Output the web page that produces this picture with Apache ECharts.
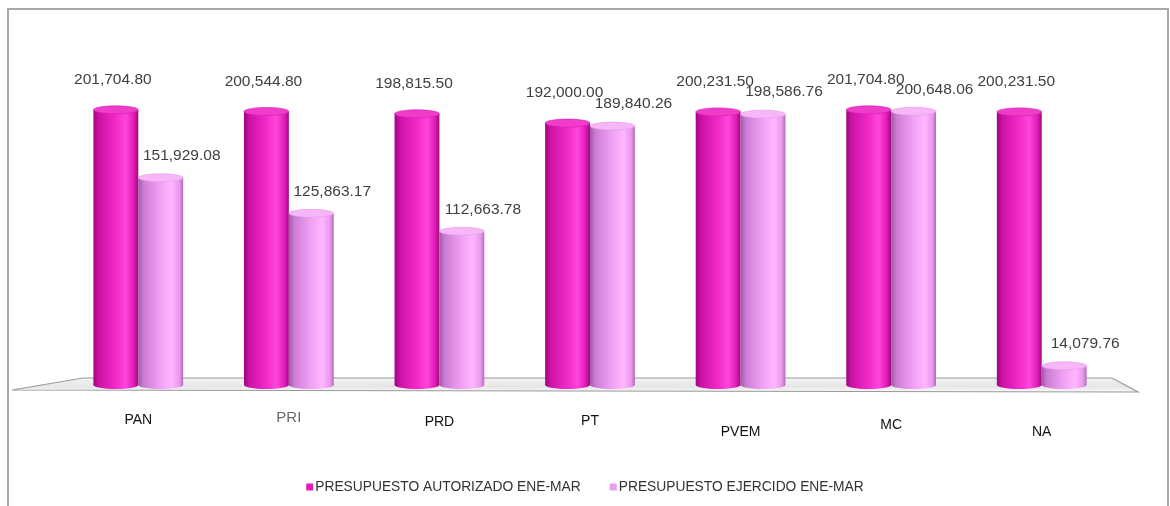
<!DOCTYPE html>
<html><head><meta charset="utf-8">
<script src="https://cdn.jsdelivr.net/npm/echarts@6/dist/echarts.min.js"></script>
<style>html,body{margin:0;padding:0;background:#fff}#c{width:1170px;height:506px}</style>
</head><body><div id="c"></div>
<script>
var categories = ['PAN','PRI','PRD','PT','PVEM','MC','NA'];
var autorizado = [201704.80, 200544.80, 198815.50, 192000.00, 200231.50, 201704.80, 200231.50];
var ejercido = [151929.08, 125863.17, 112663.78, 189840.26, 198586.76, 200648.06, 14079.76];
var seriesNames = ['PRESUPUESTO AUTORIZADO ENE-MAR', 'PRESUPUESTO EJERCIDO ENE-MAR'];

var labelDrop = [3, 0, 5, 4, 15, 8, 15];
var G = {left: 63, right: 53, top: 44, bottom: 121};
var W = 1170, H = 506;
var FONT = '"Liberation Sans", Arial, sans-serif';

function fmt(v){
  return v.toLocaleString('en-US',{minimumFractionDigits:2, maximumFractionDigits:2});
}
var themes = [
  {body: [[0,'#9c0680'],[0.12,'#cc12a6'],[0.5,'#f22ac8'],[0.72,'#ff46dc'],[0.9,'#e01cb8'],[1,'#a0087f']],
   cap: '#f03ccb', capEdge:'#d81cb0', legend:'#e41cbc', dx:-3, dy:-26},
  {body: [[0,'#a05aa8'],[0.12,'#cc7cd4'],[0.5,'#f2a2f4'],[0.75,'#ffb6ff'],[0.92,'#e898ec'],[1,'#b06ab8']],
   cap: '#f6b6f8', capEdge:'#e09ae4', legend:'#ee9cf0', dx:21, dy:-18}
];

function makeRender(si){
  var t = themes[si];
  return function(params, api){
    var c = api.value(0), v = api.value(1);
    var base = api.coord([c, 0]);
    var top = api.coord([c, v]);
    var band = api.size([1, 0])[0];
    var w = band * 0.298;
    var cx = base[0] + (si === 0 ? -0.5 : 0.5) * w;
    var rx = w / 2, ry = 4;
    var grad = new echarts.graphic.LinearGradient(0,0,1,0, t.body.map(function(s){return {offset:s[0], color:s[1]};}));
    return {
      type: 'group',
      children: [
        {type:'ellipse', shape:{cx:cx, cy:base[1], rx:rx, ry:ry}, style:{fill:grad}},
        {type:'rect', shape:{x:cx-rx, y:top[1], width:w, height:base[1]-top[1]}, style:{fill:grad}},
        {type:'ellipse', shape:{cx:cx, cy:top[1], rx:rx, ry:ry}, style:{fill:t.cap, stroke:t.capEdge, lineWidth:0.6}},
        {type:'text', x: cx + t.dx, y: top[1] - ry + t.dy,
         style:{text: fmt(v), fill:'#404040', font:'15.5px ' + FONT, align:'center', verticalAlign:'middle'}}
      ]
    };
  };
}

var rich = {};
labelDrop.forEach(function(d,i){
  rich['o'+i] = {padding:[d,0,0,0], fontSize: i===1?15:14, color: i===1?'#6a6a6a':'#111', fontFamily: FONT};
});

var baseY = H - G.bottom;
var floor = [[12, baseY+5],[83, baseY-7],[1112, baseY-7],[1138, baseY+7]];

var chart = echarts.init(document.getElementById('c'));
chart.setOption({
  animation: false,
  backgroundColor: '#fff',
  graphic: [
    {type:'rect', z:-10, shape:{x:8, y:9, width:1160, height:600}, style:{fill:'#fff', stroke:'#a8a8a8', lineWidth:2}},
    {type:'polygon', z:-5, shape:{points: floor},
     style:{fill: new echarts.graphic.LinearGradient(0,0,0,1,[{offset:0,color:'#f4f4f4'},{offset:0.6,color:'#e6e6e6'},{offset:1,color:'#fafafa'}]),
            stroke:'#9a9a9a', lineWidth:1.2}}
  ],
  grid: {left:G.left, right:G.right, top:G.top, bottom:G.bottom},
  legend: {
    bottom: 7, left: 'center', itemWidth: 7, itemHeight: 7, itemGap: 29, icon: 'rect',
    textStyle: {color:'#333', fontSize:13.8, fontFamily: FONT, padding:[0,0,0,-3]},
    data: seriesNames
  },
  xAxis: {
    type:'category', data: categories,
    axisLine:{show:false}, axisTick:{show:false}, splitLine:{show:false},
    axisLabel:{margin: 25, formatter: function(v, i){ return '{o'+i+'|'+v+'}'; }, rich: rich}
  },
  yAxis: {type:'value', min:0, max:250000, show:false, splitLine:{show:false}},
  series: [0,1].map(function(si){
    var vals = si === 0 ? autorizado : ejercido;
    return {
      type:'custom', name: seriesNames[si],
      itemStyle:{color: themes[si].legend},
      renderItem: makeRender(si),
      encode:{x:0, y:1},
      data: vals.map(function(v,i){ return [i, v]; })
    };
  })
});
</script></body></html>
